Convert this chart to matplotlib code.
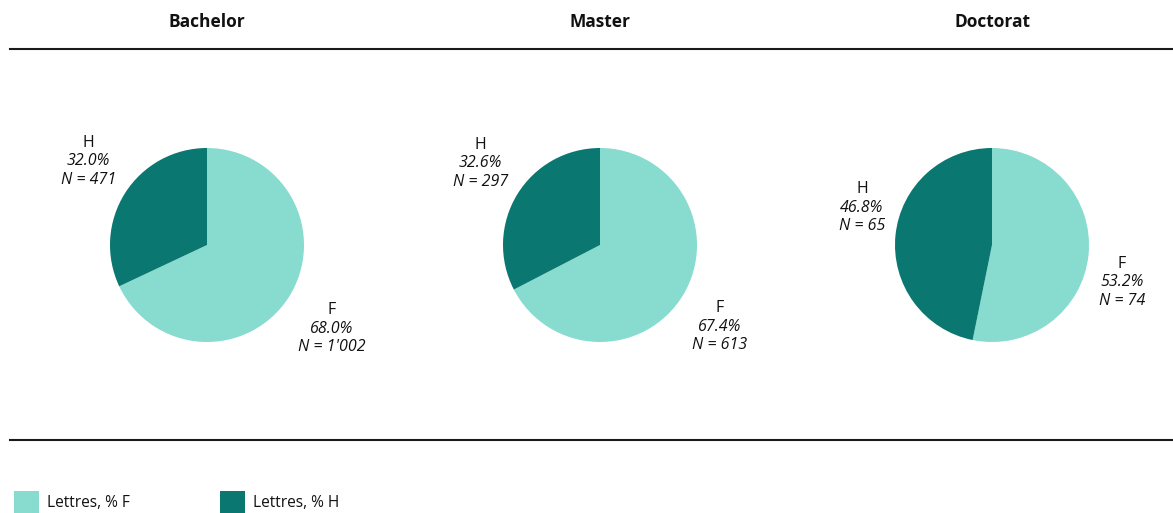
import numpy as np
import matplotlib.pyplot as plt
from matplotlib.lines import Line2D
from matplotlib.patches import Rectangle

plt.rcParams['font.family'] = ['Open Sans', 'DejaVu Sans']

# data
levels = ['Bachelor', 'Master', 'Doctorat']
share_f = [68.0, 67.4, 53.2]
share_h = [32.0, 32.6, 46.8]
n_f = ["1'002", "613", "74"]
n_h = ["471", "297", "65"]
legend_labels = ['Lettres, % F', 'Lettres, % H']

C_F = '#88dbcf'
C_H = '#0a7770'

W, H = 1173, 513
fig = plt.figure(figsize=(W / 100, H / 100), dpi=100)

centers_x = [207, 600, 992]
cy = 245
r_px = 97
FS = 11.5
LS = 1.2

for i, lvl in enumerate(levels):
    cx = centers_x[i]
    ax = fig.add_axes([(cx - 2 * r_px) / W, (H - cy - 2 * r_px) / H, 4 * r_px / W, 4 * r_px / H])
    ax.axis('off')
    vals = [share_f[i], share_h[i]]
    wedges, _ = ax.pie(vals, colors=[C_F, C_H], startangle=90, counterclock=False,
                       radius=1, wedgeprops=dict(linewidth=0))
    ax.set_aspect('equal')
    ax.set_xlim(-2, 2)
    ax.set_ylim(-2, 2)
    names = ['F', 'H']
    ns = [n_f[i], n_h[i]]
    for w, name, v, n in zip(wedges, names, vals, ns):
        mid = np.deg2rad((w.theta1 + w.theta2) / 2)
        x, y = 1.1 * np.cos(mid), 1.1 * np.sin(mid)
        ha = 'left' if np.cos(mid) > 0 else 'right'
        va = 'top' if np.sin(mid) < 0 else 'bottom'
        # invisible full block to find where the label sits
        txt = ax.text(x, y, f'{name}\n{v:.1f}%\nN = {n}', ha=ha, va=va, fontsize=FS,
                      linespacing=LS, multialignment='center', clip_on=False)
        txt.set_alpha(0)
        fig.canvas.draw()
        bb = txt.get_window_extent()
        inv = ax.transData.inverted()
        (x0, y0), (x1, y1) = inv.transform([[bb.x0, bb.y0], [bb.x1, bb.y1]])
        xc = (x0 + x1) / 2
        # first line upright, values italic
        ax.text(xc, y1, name, ha='center', va='top', fontsize=FS, color='#111111',
                linespacing=LS, clip_on=False)
        ax.text(xc, y0, f'{v:.1f}%\nN = {n}', ha='center', va='bottom', fontsize=FS,
                style='italic', color='#111111', linespacing=LS, clip_on=False)
    fig.text(cx / W, 1 - 22 / H, lvl, ha='center', va='center', fontsize=12.5,
             fontweight='bold', color='#111111')

for yy in [49, 440]:
    fig.add_artist(Line2D([10 / W, 1], [1 - yy / H] * 2, color='#1a1a1a', lw=1.5))

for j, (lab, col) in enumerate(zip(legend_labels, [C_F, C_H])):
    x0 = 14 + j * 206
    fig.add_artist(Rectangle((x0 / W, 0), 25 / W, 22 / H, transform=fig.transFigure,
                             facecolor=col, edgecolor='none'))
    fig.text((x0 + 33) / W, 1 - 503 / H, lab, ha='left', va='center', fontsize=11.2,
             color='#111111')

fig.savefig('out.png', dpi=100)
